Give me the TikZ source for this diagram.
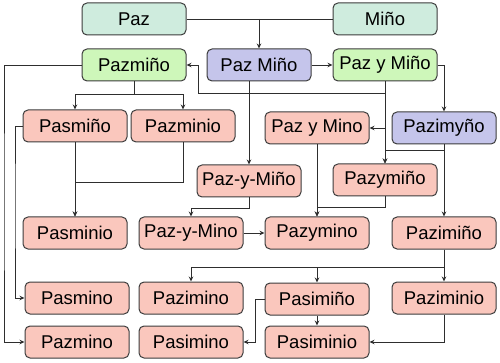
\documentclass[tikz,border=0pt]{standalone}
\usepackage{fontspec}
\setmainfont{Liberation Sans}
\usetikzlibrary{arrows.meta}
\definecolor{mint}{HTML}{CFECDE}
\definecolor{lgreen}{HTML}{CEF7BA}
\definecolor{lav}{HTML}{C5C5EB}
\definecolor{salmon}{HTML}{FAC7BD}
\definecolor{edge}{HTML}{3C3C3C}
\definecolor{wire}{HTML}{2E2E2E}
\tikzset{
  box/.style={draw=edge, line width=1pt, rounded corners=5pt,
    minimum width=104pt, minimum height=32pt, inner sep=0pt,
    font=\fontsize{18.5}{20}\selectfont},
  mintbox/.style={box, fill=mint},
  greenbox/.style={box, fill=lgreen},
  lavbox/.style={box, fill=lav},
  salbox/.style={box, fill=salmon},
  wire/.style={draw=wire, line width=0.9pt},
  arr/.style={wire, -{Stealth[length=5pt,width=4.5pt]}},
}
\begin{document}
\begin{tikzpicture}[x=1pt,y=-1pt]
\useasboundingbox (0,0) rectangle (500,363);
% row 1
\node[mintbox] (paz) at (134,19) {Paz};
\node[mintbox] (mino) at (385,19) {Miño};
% row 2
\node[greenbox] (pzm) at (134,65) {Pazmiño};
\node[lavbox] (pm) at (259,65) {Paz Miño};
\node[greenbox] (pym) at (385,65) {Paz y Miño};
% row 3
\node[salbox] (psm) at (75,126) {Pasmiño};
\node[salbox] (pzmi) at (183,126) {Pazminio};
\node[salbox] (pymino) at (317,128) {Paz y Mino};
\node[lavbox] (pzy) at (444,128) {Pazimyño};
% row 3.5
\node[salbox] (pyn) at (249,181) {Paz-y-Miño};
\node[salbox] (pyms) at (385,180) {Pazymiño};
% row 4
\node[salbox] (psmi) at (75,233) {Pasminio};
\node[salbox] (pymn) at (191,233) {Paz-y-Mino};
\node[salbox] (pzymo) at (317,233) {Pazymino};
\node[salbox] (pzn) at (444,233) {Pazimiño};
% row 5
\node[salbox] (psmo) at (77,298) {Pasmino};
\node[salbox] (pzimo) at (191,298) {Pazimino};
\node[salbox] (psmn) at (317,299) {Pasimiño};
\node[salbox] (pzmio) at (444,298) {Paziminio};
% row 6
\node[salbox] (pzmo) at (77,342) {Pazmino};
\node[salbox] (psimo) at (191,342) {Pasimino};
\node[salbox] (psmio) at (317,342) {Pasiminio};
% helper coordinates
\coordinate (j1) at (198,93);
\coordinate (L1) at (4,200);
\coordinate (L2) at (15,200);
% connectors
\draw[wire] (paz.east) -- (mino.west);
\draw[arr] (pm.north |- paz.east) -- (pm.north);
\draw[arr] (pm.east) -- (pym.west);
\draw[arr] (pym.south) |- (j1) |- (pzm.east);
\draw[arr] (pym.south) -- (pyms.north);
\draw[arr] (pym.south |- pymino.east) -- (pymino.east);
\draw[arr] (pym.east) -| (pzy.north);
\draw[arr] (pzy.south) -- ++(0,6) -| (pyms.north);
\draw[arr] (pzy.south) -- (pzn.north);
\draw[arr] (pm.south -| pyn.north) -- (pyn.north);
\draw[arr] (pzm.south) -- ++(0,13) -| (psm.north);
\draw[arr] (pzm.south) -- ++(0,13) -| (pzmi.north);
\draw[arr] (pzm.west) -| (L1) |- (pzmo.west);
\draw[arr] (psm.west) -| (L2) |- (psmo.west);
\draw[arr] (psm.south) -- (psmi.north);
\draw[arr] (pzmi.south) -- ++(0,40) -| (psmi.north);
\draw[arr] (pyn.south) -- ++(0,11) -| (pymn.north);
\draw[arr] (pymn.east) -- (pzymo.west);
\draw[arr] (pymino.south) -- (pzymo.north);
\draw[arr] (pyms.south) -- ++(0,11) -| (pzymo.north);
\draw[arr] (pzn.south) -- ++(0,18) -| (pzimo.north);
\draw[arr] (pzn.south) -- ++(0,18) -| (psmn.north);
\draw[arr] (pzn.south) -- (pzmio.north);
\draw[arr] (psmn.south) -- (psmio.north);
\draw[arr] (psmn.west) -- ++(-9,0) |- (psimo.east);
\draw[arr] (pzmio.south) |- (psmio.east);
\end{tikzpicture}
\end{document}
